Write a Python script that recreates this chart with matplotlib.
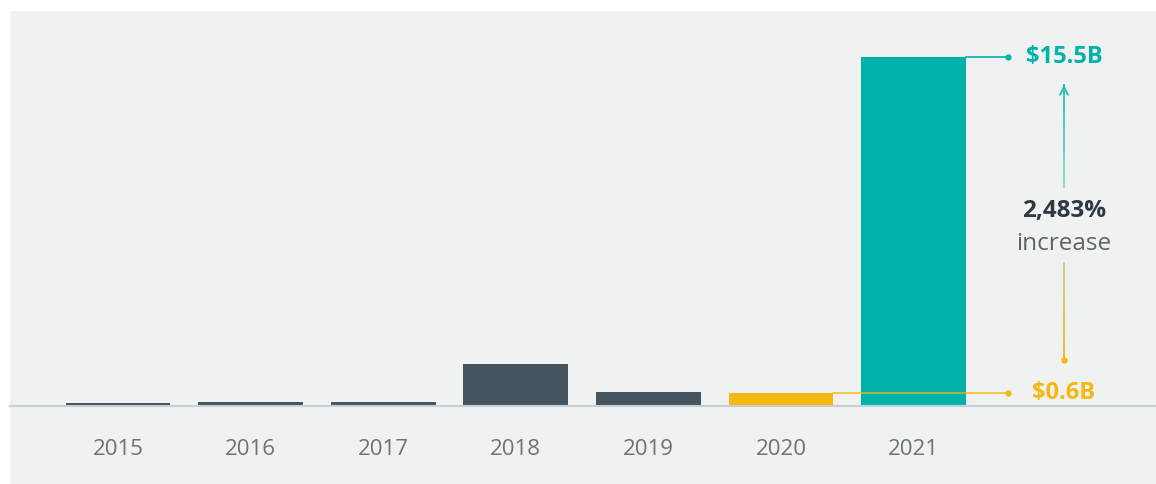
"""Bar chart: yearly totals with a 2020 -> 2021 increase callout."""

import matplotlib.pyplot as plt
import numpy as np
from matplotlib.collections import LineCollection
from matplotlib.colors import LinearSegmentedColormap
from matplotlib.patches import Rectangle

YEARS = ["2015", "2016", "2017", "2018", "2019", "2020", "2021"]
VALUES_B = [0.12, 0.2, 0.18, 1.87, 0.64, 0.6, 15.5]
BAR_COLORS = ["#45555F"] * 5 + ["#F4B80F", "#00B2A9"]

START_LABEL = "$0.6B"
END_LABEL = "$15.5B"
PCT_LABEL = "2,483%"
PCT_TEXT = "increase"

TEAL = "#00B2A9"
GOLD = "#F4B80F"
SLATE = "#45555F"
PANEL = "#F0F1F1"

plt.rcParams["font.family"] = ["Open Sans", "DejaVu Sans"]

W, H = 1156, 484
fig = plt.figure(figsize=(W / 100, H / 100), dpi=100, facecolor="white")

# light grey card behind the chart
fig.patches.append(
    Rectangle((10 / W, 0), 1, 1 - 11 / H, transform=fig.transFigure,
              facecolor=PANEL, edgecolor="none", zorder=-10)
)

# axes: baseline at y=406 px (from top), x from panel edge to right edge
ax = fig.add_axes([10 / W, (H - 406) / H, (W - 10) / W, (406 - 11) / H])
ax.set_facecolor("none")

x = np.arange(len(YEARS))
px_per_unit = 132.58
ax.set_xlim(-(118 - 10) / px_per_unit, (W - 118) / px_per_unit)
ax.set_ylim(0, (406 - 11) / 22.5)

ax.bar(x, VALUES_B, width=0.79, color=BAR_COLORS, zorder=2)

for side in ["top", "right", "left"]:
    ax.spines[side].set_visible(False)
ax.spines["bottom"].set_color("#C5D0D8")
ax.spines["bottom"].set_linewidth(1.5)
ax.spines["bottom"].set_zorder(3)
ax.set_yticks([])
ax.set_xticks(x)
ax.set_xticklabels(YEARS, fontsize=16, color="#6B7378")
ax.tick_params(axis="x", length=0, pad=23.5)

i20, i21 = 5, 6
v20, v21 = VALUES_B[i20], VALUES_B[i21]
line_end = i21 + 0.71
label_x = i21 + 1.135

# leader lines from bar tops to the value labels
ax.plot([i21 + 0.395, line_end], [v21, v21], color=TEAL, lw=1.2, zorder=4)
ax.plot([line_end], [v21], "o", color=TEAL, ms=3.5, zorder=4)
ax.plot([i20 + 0.395, line_end], [v20, v20], color=GOLD, lw=1.2, alpha=0.85, zorder=4)
ax.plot([line_end], [v20], "o", color=GOLD, ms=3.5, zorder=4)

ax.text(label_x, v21, END_LABEL, color=TEAL, fontsize=17, fontweight="bold",
        ha="center", va="center")
ax.text(label_x, v20 - 0.03, START_LABEL, color=GOLD, fontsize=17, fontweight="bold",
        ha="center", va="center")

# increase callout in between
ax.text(label_x, 8.67, PCT_LABEL, color="#2F3A40", fontsize=17.5,
        fontweight="bold", ha="center", va="center")
ax.text(label_x, 7.2, PCT_TEXT, color="#5B6469", fontsize=17.5,
        ha="center", va="center")

# upper arrow (teal, light at bottom)
up_lo, up_hi = 9.7, 14.3
ys = np.linspace(up_lo, up_hi, 30)
pts = np.column_stack([np.full_like(ys, label_x), ys]).reshape(-1, 1, 2)
segs = np.concatenate([pts[:-1], pts[1:]], axis=1)
up_cmap = LinearSegmentedColormap.from_list("up", ["#8FDCC6", "#2FBFAF"])
ax.add_collection(LineCollection(segs, colors=up_cmap(np.linspace(0, 1, len(segs))),
                                 lw=1.4, zorder=4))
ax.annotate("", xy=(label_x, up_hi + 0.1), xytext=(label_x, up_hi - 0.5),
            arrowprops=dict(arrowstyle="->", color="#2FBFAF", lw=1.4,
                            mutation_scale=14))

# lower line (yellow, greenish at top)
lo_lo, lo_hi = 2.05, 6.4
ys = np.linspace(lo_lo, lo_hi, 30)
pts = np.column_stack([np.full_like(ys, label_x), ys]).reshape(-1, 1, 2)
segs = np.concatenate([pts[:-1], pts[1:]], axis=1)
lo_cmap = LinearSegmentedColormap.from_list("lo", ["#F2B922", "#C9D58A"])
ax.add_collection(LineCollection(segs, colors=lo_cmap(np.linspace(0, 1, len(segs))),
                                 lw=1.4, zorder=4))
ax.plot([label_x], [lo_lo], "o", color=GOLD, ms=3.5, zorder=4)

fig.savefig("out.png", dpi=100, facecolor="white")
